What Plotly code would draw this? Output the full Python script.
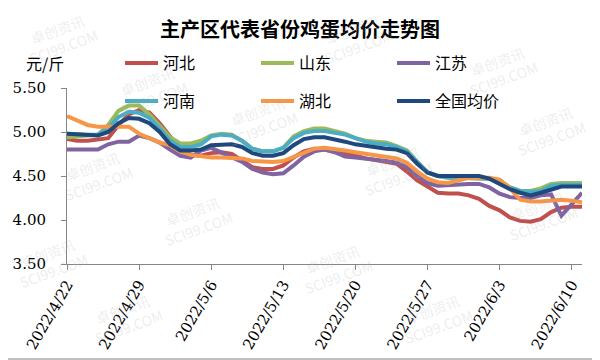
import pandas as pd
import plotly.graph_objects as go

dates = pd.date_range("2022-04-22", "2022-06-11", freq="D")

hebei = [4.92, 4.90, 4.90, 4.91, 4.93, 5.08, 5.20, 5.25, 5.22, 5.10,
         4.95, 4.80, 4.74, 4.73, 4.76, 4.77, 4.75, 4.68, 4.60, 4.58,
         4.58, 4.62, 4.71, 4.78, 4.81, 4.80, 4.78, 4.76, 4.73, 4.70,
         4.68, 4.67, 4.64, 4.55, 4.45, 4.38, 4.31, 4.30, 4.30, 4.28,
         4.24, 4.16, 4.11, 4.03, 3.99, 3.98, 4.01, 4.09, 4.14, 4.15, 4.15]
shandong = [4.94, 4.95, 4.96, 4.97, 5.08, 5.24, 5.30, 5.30, 5.20, 5.07,
            4.94, 4.87, 4.87, 4.90, 4.96, 4.98, 4.97, 4.90, 4.81, 4.78,
            4.78, 4.82, 4.95, 5.01, 5.04, 5.04, 5.01, 4.98, 4.93, 4.90,
            4.89, 4.88, 4.84, 4.79, 4.66, 4.54, 4.50, 4.48, 4.48, 4.48,
            4.48, 4.47, 4.45, 4.37, 4.33, 4.33, 4.36, 4.41, 4.42, 4.42, 4.42]
jiangsu = [4.80, 4.80, 4.80, 4.80, 4.86, 4.89, 4.89, 4.96, 4.93, 4.88,
           4.80, 4.73, 4.71, 4.79, 4.82, 4.77, 4.72, 4.66, 4.58, 4.54,
           4.52, 4.53, 4.62, 4.72, 4.78, 4.80, 4.77, 4.72, 4.71, 4.70,
           4.69, 4.67, 4.65, 4.60, 4.50, 4.42, 4.39, 4.40, 4.41, 4.41,
           4.41, 4.37, 4.30, 4.26, 4.25, 4.25, 4.28, 4.29, 4.05, 4.18, 4.31]
henan = [4.98, 4.97, 4.97, 4.97, 5.05, 5.17, 5.23, 5.22, 5.16, 5.04,
         4.90, 4.83, 4.83, 4.86, 4.95, 4.97, 4.96, 4.90, 4.81, 4.78,
         4.78, 4.82, 4.93, 4.99, 5.01, 5.01, 4.99, 4.97, 4.93, 4.89,
         4.87, 4.86, 4.83, 4.78, 4.66, 4.54, 4.50, 4.48, 4.48, 4.48,
         4.48, 4.47, 4.44, 4.37, 4.33, 4.32, 4.33, 4.39, 4.40, 4.40, 4.40]
hubei = [5.18, 5.13, 5.08, 5.06, 5.06, 5.07, 5.06, 4.98, 4.93, 4.88,
         4.85, 4.78, 4.74, 4.72, 4.71, 4.71, 4.71, 4.70, 4.67, 4.66,
         4.66, 4.67, 4.72, 4.77, 4.81, 4.82, 4.81, 4.79, 4.77, 4.75,
         4.73, 4.71, 4.70, 4.65, 4.55, 4.47, 4.43, 4.42, 4.45, 4.48,
         4.48, 4.48, 4.46, 4.36, 4.23, 4.21, 4.21, 4.22, 4.23, 4.22, 4.20]
national = [4.98, 4.97, 4.96, 4.96, 5.00, 5.10, 5.16, 5.15, 5.10, 5.00,
            4.86, 4.79, 4.79, 4.80, 4.85, 4.86, 4.86, 4.83, 4.76, 4.73,
            4.73, 4.76, 4.85, 4.92, 4.94, 4.94, 4.92, 4.89, 4.86, 4.84,
            4.82, 4.81, 4.80, 4.76, 4.64, 4.54, 4.50, 4.50, 4.50, 4.50,
            4.50, 4.47, 4.41, 4.35, 4.31, 4.28, 4.31, 4.35, 4.38, 4.38, 4.38]

tick_dates = ["2022-04-22", "2022-04-29", "2022-05-06", "2022-05-13",
              "2022-05-20", "2022-05-27", "2022-06-03", "2022-06-10"]
tick_text = ["2022/4/22", "2022/4/29", "2022/5/6", "2022/5/13",
             "2022/5/20", "2022/5/27", "2022/6/3", "2022/6/10"]

names = ["河北", "山东", "江苏", "河南", "湖北", "全国均价"]
values = [hebei, shandong, jiangsu, henan, hubei, national]
colors = ["#C0504D", "#9BBB59", "#8064A2", "#4BACC6", "#F79646", "#1F497D"]

# page body has an 8px margin: figure is drawn from (8, 8) of the window
OFF = 8
W, H = 600 - OFF, 360 - OFF
L, R, T, B = 67 - OFF, 18, 88 - OFF, 96
pw, ph = W - L - R, H - T - B

def px_x(ref_x):
    return (ref_x - OFF - L) / pw

def px_y(ref_y):
    return (H - B - (ref_y - OFF)) / ph

fig = go.Figure()
legend_ids = ["legend", "legend2", "legend3", "legend4", "legend5", "legend6"]
for i, (name, vals, color) in enumerate(zip(names, values, colors)):
    fig.add_trace(go.Scatter(x=dates, y=vals, name=name, mode="lines",
                             line=dict(color=color, width=4),
                             legend=legend_ids[i]))

# watermarks
wm_pos = [(60, 38), (355, 38), (150, 90), (500, 70), (260, 120), (548, 130),
          (95, 175), (395, 170), (195, 220), (540, 215), (50, 262),
          (335, 268), (125, 318), (435, 318)]
for (px, py) in wm_pos:
    fig.add_annotation(x=px_x(px), y=px_y(py), xref="paper", yref="paper",
                       xanchor="center", yanchor="middle",
                       text="卓创资讯<br>SCI99.COM", showarrow=False, textangle=-20,
                       font=dict(family="Noto Sans CJK SC", size=14, color="rgba(170,170,170,0.22)"))

fig.add_annotation(x=px_x(45), y=px_y(63), xref="paper", yref="paper",
                   xanchor="center", yanchor="middle",
                   text="元/斤", showarrow=False,
                   font=dict(family="Noto Sans CJK SC", size=16, color="#000"))

fig.add_shape(type="rect", xref="paper", yref="paper",
              x0=px_x(1), x1=px_x(599),
              y0=px_y(359), y1=px_y(1),
              line=dict(color="#BFBFBF", width=2), layer="below")

legend_layout = {}
col_px = [120, 256, 392]
row_py = [63, 101]
for i, lid in enumerate(legend_ids):
    legend_layout[lid] = dict(
        orientation="h", x=px_x(col_px[i % 3]), xanchor="left",
        y=px_y(row_py[i // 3]), yanchor="middle", itemwidth=33,
        bgcolor="rgba(0,0,0,0)",
        font=dict(family="Noto Sans CJK SC", size=16, color="#000"))

fig.update_layout(
    width=W, height=H,
    margin=dict(l=L, r=R, t=T, b=B, autoexpand=False),
    paper_bgcolor="white", plot_bgcolor="white",
    title=dict(text="<b>主产区代表省份鸡蛋均价走势图</b>", x=px_x(300), xref="paper",
               xanchor="center", y=1 - (30 - OFF) / H, yanchor="middle",
               font=dict(family="Noto Sans CJK SC", size=20, color="#000")),
    xaxis=dict(type="date", range=["2022-04-22", "2022-06-11"],
               tickmode="array", tickvals=tick_dates, ticktext=tick_text,
               tickangle=-60, ticks="outside", ticklen=5, tickcolor="#868686",
               showline=True, linecolor="#868686", linewidth=1,
               showgrid=False, zeroline=False, automargin=False,
               tickfont=dict(family="DejaVu Serif", size=15, color="#000")),
    yaxis=dict(range=[3.5, 5.5], tickmode="array",
               tickvals=[3.5, 4.0, 4.5, 5.0, 5.5], tickformat=".2f",
               ticks="outside", ticklen=5, tickcolor="#868686",
               showline=True, linecolor="#868686", linewidth=1,
               showgrid=False, zeroline=False, ticklabelstandoff=12,
               automargin=False,
               tickfont=dict(family="DejaVu Serif", size=15, color="#000")),
    showlegend=True,
    **legend_layout,
)

fig.write_html("out.html")
